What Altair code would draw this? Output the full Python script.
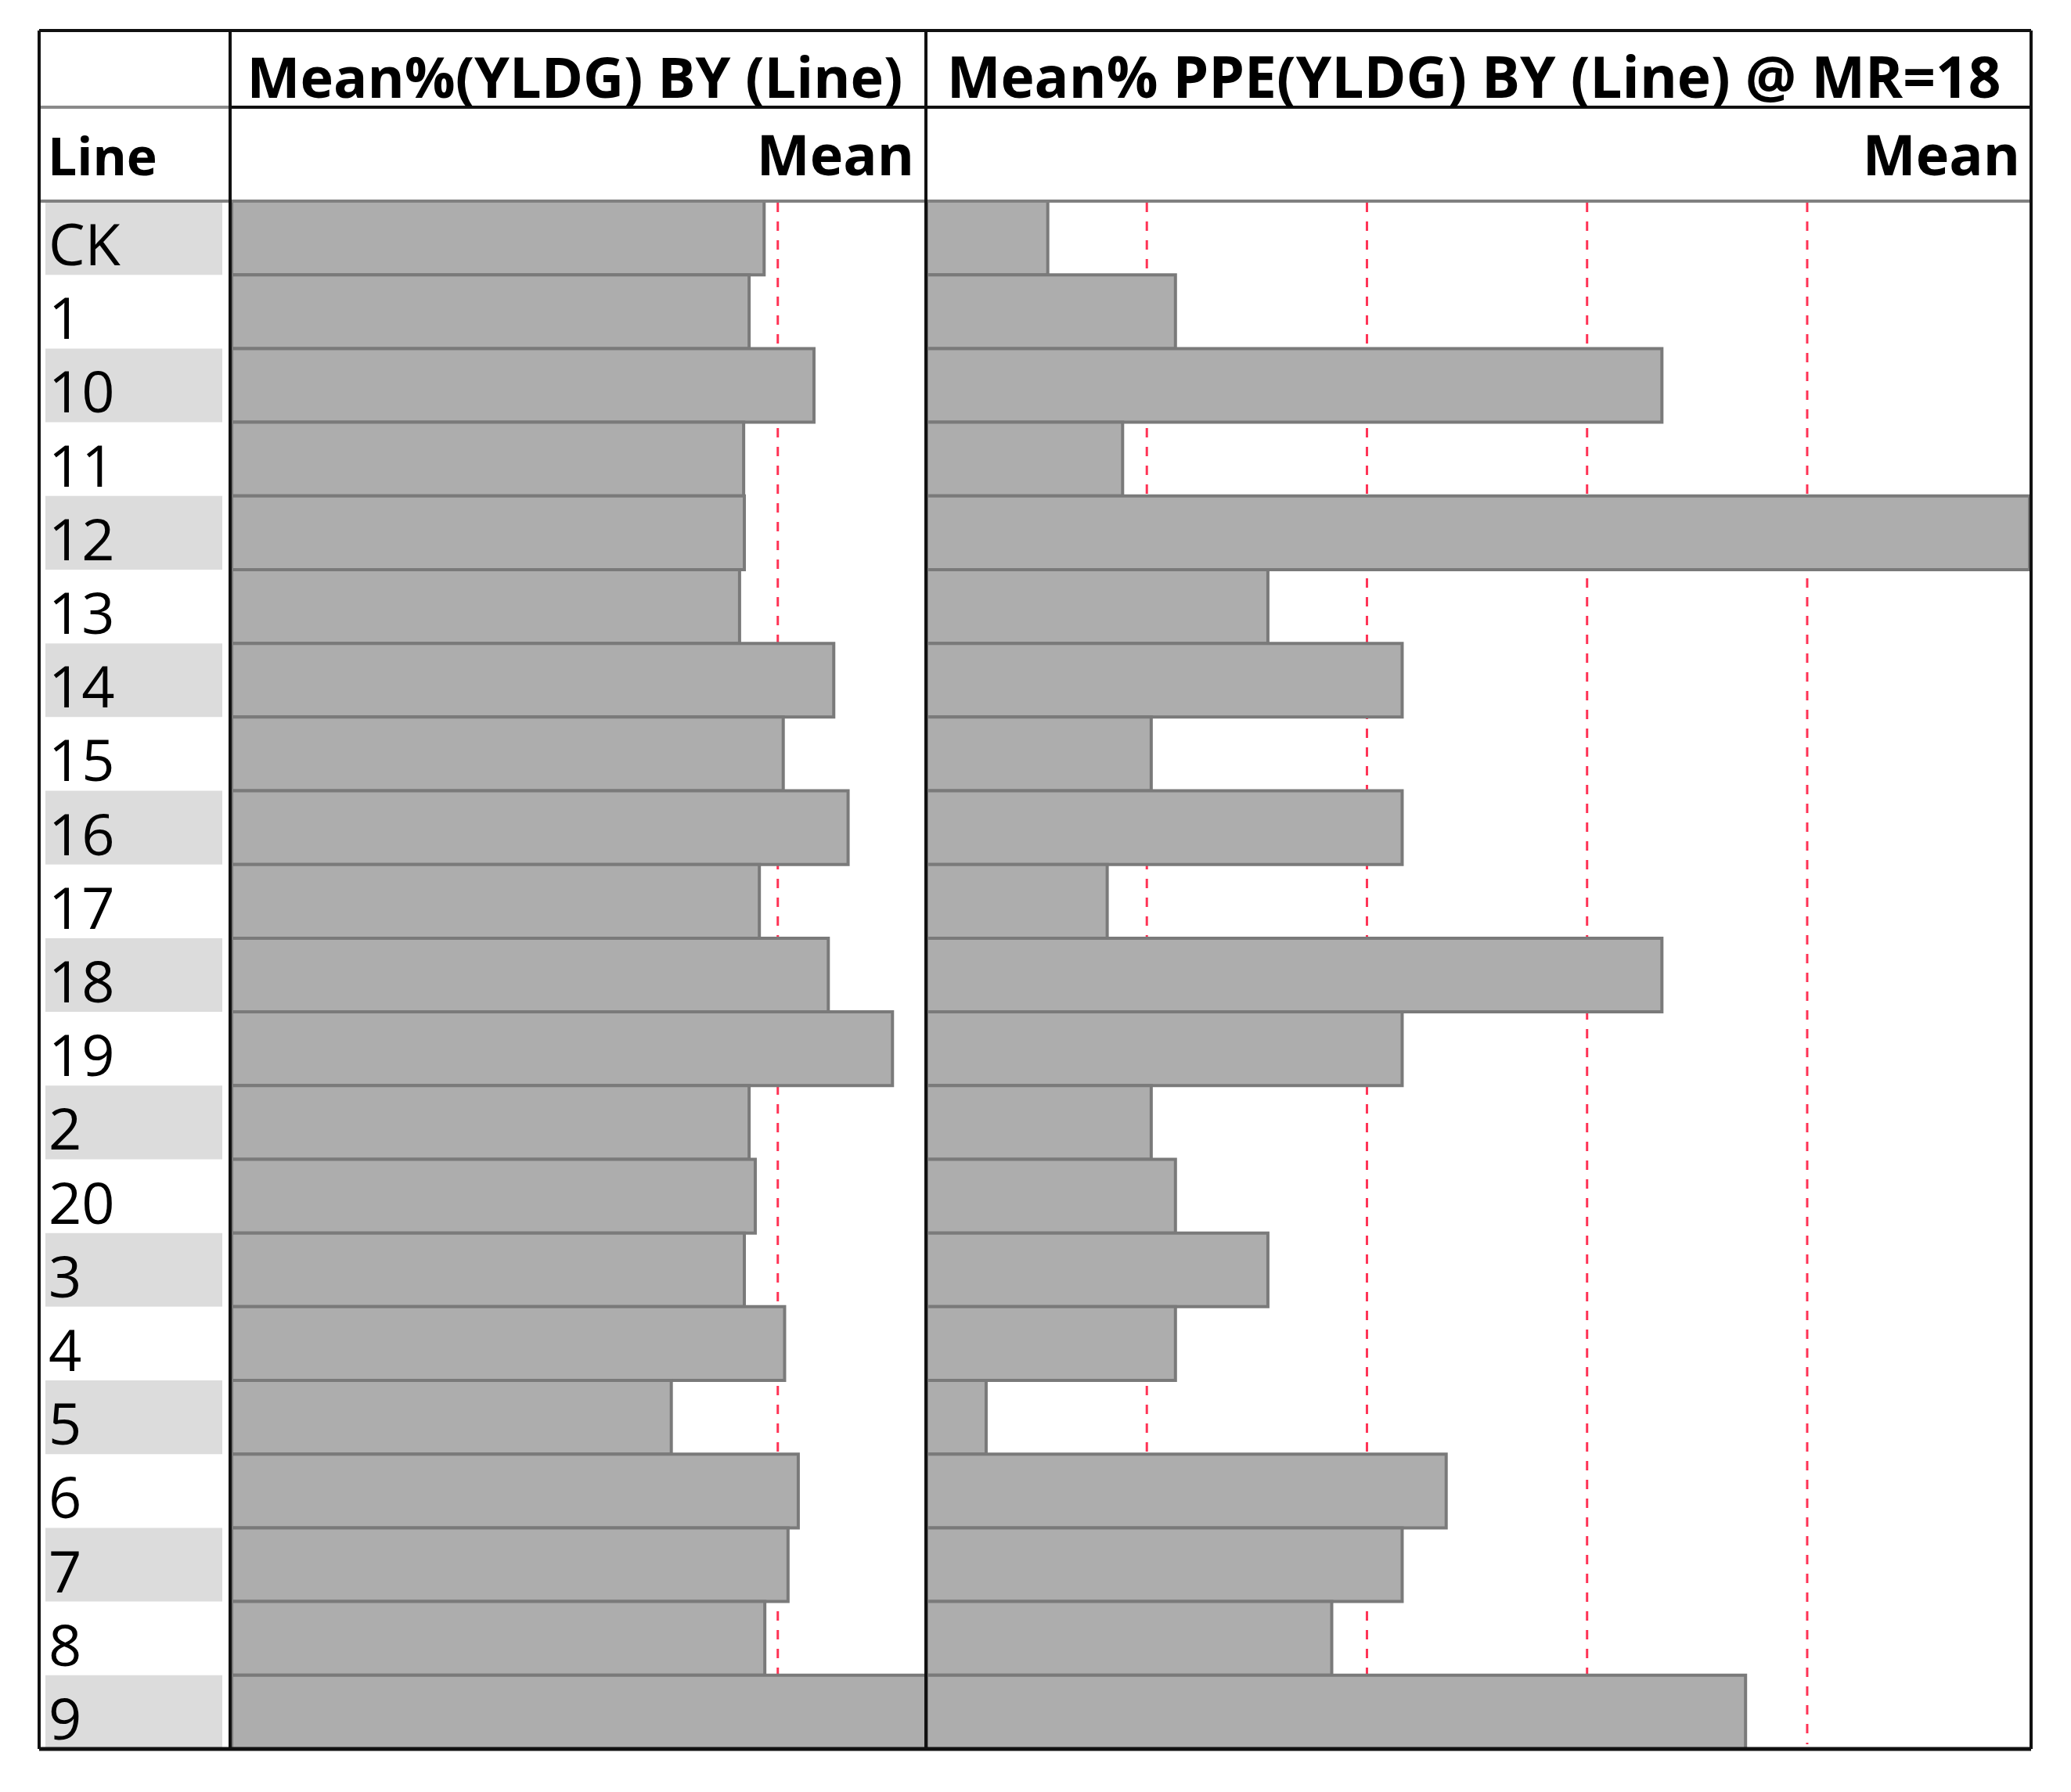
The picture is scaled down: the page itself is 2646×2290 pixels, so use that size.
import altair as alt
import pandas as pd

# ---------------- data ----------------
lines = ["CK", "1", "10", "11", "12", "13", "14", "15", "16", "17", "18",
         "19", "2", "20", "3", "4", "5", "6", "7", "8", "9"]
mean_yldg = [78.0, 75.8, 85.3, 75.0, 75.1, 74.4, 88.2, 80.8, 90.3, 77.3, 87.4,
             96.8, 75.8, 76.7, 75.1, 81.0, 64.4, 83.0, 81.5, 78.1, 101.7]
mean_ppe = [0.55, 1.13, 3.34, 0.89, 5.01, 1.55, 2.16, 1.02, 2.16, 0.82, 3.34,
            2.16, 1.02, 1.13, 1.55, 1.13, 0.27, 2.36, 2.16, 1.84, 3.72]
grid_yldg = [20, 40, 60, 80]
grid_ppe = [1, 2, 3, 4]

title_left = "Mean%(YLDG) BY (Line)"
title_right = "Mean% PPE(YLDG) BY (Line) @ MR=18"
col_header = "Line"
stat_header = "Mean"

df = pd.DataFrame({
    "Line": lines,
    "yldg": mean_yldg,
    "ppe": mean_ppe,
    "shade": [i % 2 == 0 for i in range(len(lines))],
})

# ---------------- layout constants ----------------
W, H = 2545, 2196
COL_X = 244        # label column right border
DIV_X = 1133       # divider between panels
HDR1_Y = 98
HDR2_Y = 218
FONT = "Open Sans"
GRID_COLOR = "#ff3355"
BAR_FILL = "#adadad"
BAR_STROKE = "#7a7a7a"

yenc = alt.Y("Line:N", sort=lines, axis=None,
             scale=alt.Scale(range=[HDR2_Y, H], paddingInner=0, paddingOuter=0))

base = alt.Chart(df)

# row shading in label column
shade = base.transform_filter("datum.shade").mark_rect(color="#dcdcdc").encode(
    x=alt.value(8), x2=alt.value(COL_X - 10), y=yenc)

labels = base.mark_text(align="left", baseline="alphabetic", dy=35,
                        fontSize=74, font=FONT, color="#000").encode(
    x=alt.value(12), y=yenc, text="Line:N")

# left panel
xl = alt.Scale(domain=[0, max(mean_yldg)], range=[COL_X + 2, DIV_X])
grid_l = alt.Chart(pd.DataFrame({"g": grid_yldg})).mark_rule(
    color=GRID_COLOR, strokeWidth=3, strokeDash=[12, 12]).encode(
    x=alt.X("g:Q", scale=xl, axis=None), y=alt.value(HDR2_Y + 2), y2=alt.value(H - 6))
bars_l = base.mark_bar(fill=BAR_FILL, stroke=BAR_STROKE, strokeWidth=4).encode(
    x=alt.X("yldg:Q", scale=xl, axis=None), y=yenc)
left_panel = alt.layer(grid_l, bars_l)

# right panel
xr = alt.Scale(domain=[0, max(mean_ppe)], range=[DIV_X + 1, W - 2])
grid_r = alt.Chart(pd.DataFrame({"g": grid_ppe})).mark_rule(
    color=GRID_COLOR, strokeWidth=3, strokeDash=[12, 12]).encode(
    x=alt.X("g:Q", scale=xr, axis=None), y=alt.value(HDR2_Y + 2), y2=alt.value(H - 6))
bars_r = base.mark_bar(fill=BAR_FILL, stroke=BAR_STROKE, strokeWidth=4).encode(
    x=alt.X("ppe:Q", scale=xr, axis=None), y=yenc)
right_panel = alt.layer(grid_r, bars_r)

one = pd.DataFrame({"t": [""]})


def rule(x1, y1, x2, y2, color="#111", width=4):
    return alt.Chart(one).mark_rule(color=color, strokeWidth=width).encode(
        x=alt.value(x1), x2=alt.value(x2), y=alt.value(y1), y2=alt.value(y2))


def label(text, x, y, align, size, weight="bold"):
    return alt.Chart(pd.DataFrame({"t": [text]})).mark_text(
        align=align, baseline="alphabetic", fontSize=size, fontWeight=weight,
        font=FONT, color="#000").encode(x=alt.value(x), y=alt.value(y), text="t:N")


borders = [
    rule(0, HDR1_Y, COL_X, HDR1_Y, color="#8a8a8a", width=4),
    rule(COL_X, HDR1_Y, W, HDR1_Y),
    rule(0, HDR2_Y, W, HDR2_Y, color="#808080", width=4),
    rule(COL_X, 0, COL_X, H),
    rule(DIV_X, 0, DIV_X, H),
    rule(0, 0, W, 0),
    rule(0, H, W, H, width=5),
    rule(0, 0, 0, H),
    rule(W, 0, W, H),
]

texts = [
    label(title_left, (COL_X + DIV_X) / 2 - 4, 86, "center", 72),
    label(title_right, (DIV_X + W) / 2 - 6, 86, "center", 73),
    label(col_header, 11, 185, "left", 66),
    label(stat_header, DIV_X - 15, 185, "right", 72),
    label(stat_header, W - 14, 185, "right", 72),
]

chart = alt.layer(
    shade, left_panel, right_panel, labels, *borders, *texts
).resolve_scale(x="independent").properties(
    width=W, height=H,
    padding={"left": 39, "top": 29, "right": 10, "bottom": 10},
).configure_view(stroke=None)

chart.save("out.html", embed_options={"renderer": "svg", "actions": False})
